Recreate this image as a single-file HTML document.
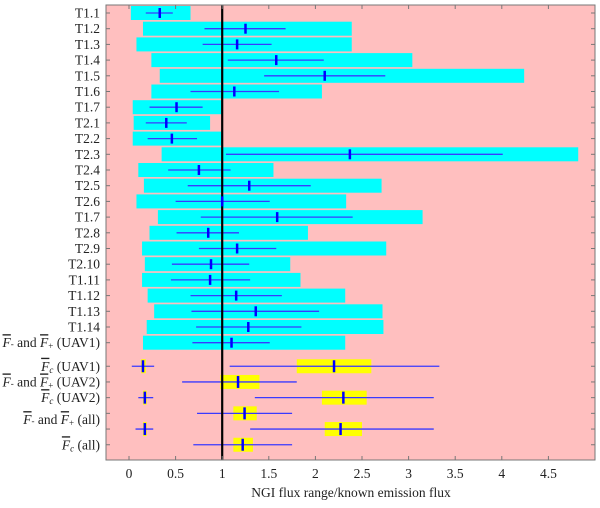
<!DOCTYPE html>
<html><head><meta charset="utf-8"><style>
body{margin:0;background:#fff;width:600px;height:503px;overflow:hidden}
svg text{font-family:"Liberation Serif","Times New Roman",serif;font-size:13.5px;fill:#222}
</style></head><body>
<svg id="chart" width="600" height="503" xmlns="http://www.w3.org/2000/svg"></svg>
<script>
// Categories (y rows, top to bottom)
const labels = ["T1.1","T1.2","T1.3","T1.4","T1.5","T1.6","T1.7","T2.1","T2.2","T2.3","T2.4","T2.5","T2.6","T1.7","T2.8","T2.9","T2.10","T1.11","T1.12","T1.13","T1.14","UAV1"];
// Cyan range bars
const rangeLo = [0.02,0.15,0.08,0.24,0.33,0.24,0.04,0.05,0.04,0.35,0.10,0.16,0.08,0.31,0.22,0.14,0.17,0.14,0.20,0.27,0.19,0.15];
const rangeHi = [0.66,2.39,2.39,3.04,4.24,2.07,0.99,0.87,0.99,4.82,1.55,2.71,2.33,3.15,1.92,2.76,1.73,1.84,2.32,2.72,2.73,2.32];
// Whiskers and medians
const whiskLo = [0.18,0.81,0.79,1.06,1.45,0.66,0.22,0.18,0.20,1.04,0.42,0.63,0.50,0.77,0.51,0.75,0.46,0.45,0.66,0.67,0.72,0.68];
const whiskHi = [0.47,1.68,1.53,2.09,2.75,1.61,0.79,0.62,0.73,4.01,1.09,1.95,1.51,2.40,1.18,1.58,1.29,1.30,1.64,2.04,1.85,1.51];
const medians = [0.33,1.25,1.16,1.58,2.10,1.13,0.51,0.40,0.46,2.37,0.75,1.29,1.00,1.59,0.85,1.16,0.88,0.87,1.15,1.36,1.28,1.10];
// Bottom group (yellow boxes) positions on row axis
const boxPos = [22.5,23.5,24.5,25.5,26.5,27.5,22.5,24.5,26.5];
const boxLo  = [1.80,0.98,2.07,1.12,2.10,1.12,0.13,0.15,0.15];
const boxHi  = [2.60,1.40,2.55,1.37,2.50,1.33,0.18,0.19,0.19];
const boxWLo = [1.08,0.57,1.35,0.73,1.30,0.69,0.03,0.10,0.07];
const boxWHi = [3.33,1.80,3.27,1.75,3.27,1.75,0.27,0.26,0.26];
const boxMed = [2.20,1.17,2.30,1.24,2.27,1.22,0.15,0.17,0.17];
const xTicks = [0,0.5,1,1.5,2,2.5,3,3.5,4,4.5];
const yTickPos = [0,1,2,3,4,5,6,7,8,9,10,11,12,13,14,15,16,17,18,19,20,21,22.5,23.5,24.5,25.5,26.5,27.5];

const L=106,R=595,T=5,B=460;
const x=v=>129+93.2*v;
const y=p=>13+15.7*p;
const svg=document.getElementById('chart');
const NS="http://www.w3.org/2000/svg";
function mk(tag,attrs,parent){const e=document.createElementNS(NS,tag);for(const k in attrs)e.setAttribute(k,attrs[k]);(parent||svg).appendChild(e);return e;}

const bg=mk('rect',{x:L,y:T,width:R-L,height:B-T,fill:'#ffbfbf'});



labels.forEach((lab,i)=>{
  const r=mk('rect',{x:x(rangeLo[i]),y:y(i)-7,width:x(rangeHi[i])-x(rangeLo[i]),height:14,fill:'#00ffff'});
  
  
});
for(let j=0;j<boxPos.length;j++){
  const r=mk('rect',{x:x(boxLo[j]),y:y(boxPos[j])-7,width:x(boxHi[j])-x(boxLo[j]),height:14,fill:'#ffff00'});
  
  
}
labels.forEach((lab,i)=>{
  const w=mk('line',{x1:x(whiskLo[i]),x2:x(whiskHi[i]),y1:y(i),y2:y(i),stroke:'#3a3aff','stroke-width':1.3});
  
  
});
for(let j=0;j<boxPos.length;j++){
  const w=mk('line',{x1:x(boxWLo[j]),x2:x(boxWHi[j]),y1:y(boxPos[j]),y2:y(boxPos[j]),stroke:'#3a3aff','stroke-width':1.3});
  
  
}
const ref=mk('line',{x1:x(1),x2:x(1),y1:T,y2:B,stroke:'#000','stroke-width':2.2});


labels.forEach((lab,i)=>{
  const m=mk('line',{x1:x(medians[i]),x2:x(medians[i]),y1:y(i)-5,y2:y(i)+5,stroke:'#0000ff','stroke-width':2.5});
  
  
});
for(let j=0;j<boxPos.length;j++){
  const m=mk('line',{x1:x(boxMed[j]),x2:x(boxMed[j]),y1:y(boxPos[j])-6,y2:y(boxPos[j])+6,stroke:'#0000ff','stroke-width':2.5});
  
  
}
const fr=mk('rect',{x:L,y:T,width:R-L,height:B-T,fill:'none',stroke:'#777','stroke-width':1});


xTicks.forEach(t=>{
  mk('line',{x1:x(t),x2:x(t),y1:B,y2:B-4,stroke:'#777'});
  mk('line',{x1:x(t),x2:x(t),y1:T,y2:T+4,stroke:'#777'});
  const tx=mk('text',{x:x(t),y:478,'text-anchor':'middle'});
  tx.textContent=t;
  
  
});
yTickPos.forEach(p=>{
  mk('line',{x1:L,x2:L+4,y1:y(p),y2:y(p),stroke:'#777'});
  mk('line',{x1:R,x2:R-4,y1:y(p),y2:y(p),stroke:'#777'});
});
labels.slice(0,21).forEach((lab,i)=>{
  const tx=mk('text',{x:100,y:y(i)+4.5,'text-anchor':'end'});
  tx.textContent=lab;
  
  
});
const FB='<tspan font-style="italic" text-decoration="overline">F</tspan>';
const bottomLabels=[
 [21,FB+'<tspan font-size="9">-</tspan> and '+FB+'<tspan font-size="9" dy="2">+</tspan><tspan dy="-2"> (UAV1)</tspan>'],
 [22.5,FB+'<tspan font-size="9" font-style="italic" dy="2">c</tspan><tspan dy="-2"> (UAV1)</tspan>'],
 [23.5,FB+'<tspan font-size="9">-</tspan> and '+FB+'<tspan font-size="9" dy="2">+</tspan><tspan dy="-2"> (UAV2)</tspan>'],
 [24.5,FB+'<tspan font-size="9" font-style="italic" dy="2">c</tspan><tspan dy="-2"> (UAV2)</tspan>'],
 [25.9,FB+'<tspan font-size="9">-</tspan> and '+FB+'<tspan font-size="9" dy="2">+</tspan><tspan dy="-2"> (all)</tspan>'],
 [27.5,FB+'<tspan font-size="9" font-style="italic" dy="2">c</tspan><tspan dy="-2"> (all)</tspan>']
];
bottomLabels.forEach(([p,h])=>{
  const tx=mk('text',{x:100,y:y(p)+4.5,'text-anchor':'end'});
  tx.innerHTML=h;
  
  
});
const xt=mk('text',{x:351,y:497,'text-anchor':'middle','font-size':'14.5'});
xt.textContent='NGI flux range/known emission flux';


</script>
</body></html>
